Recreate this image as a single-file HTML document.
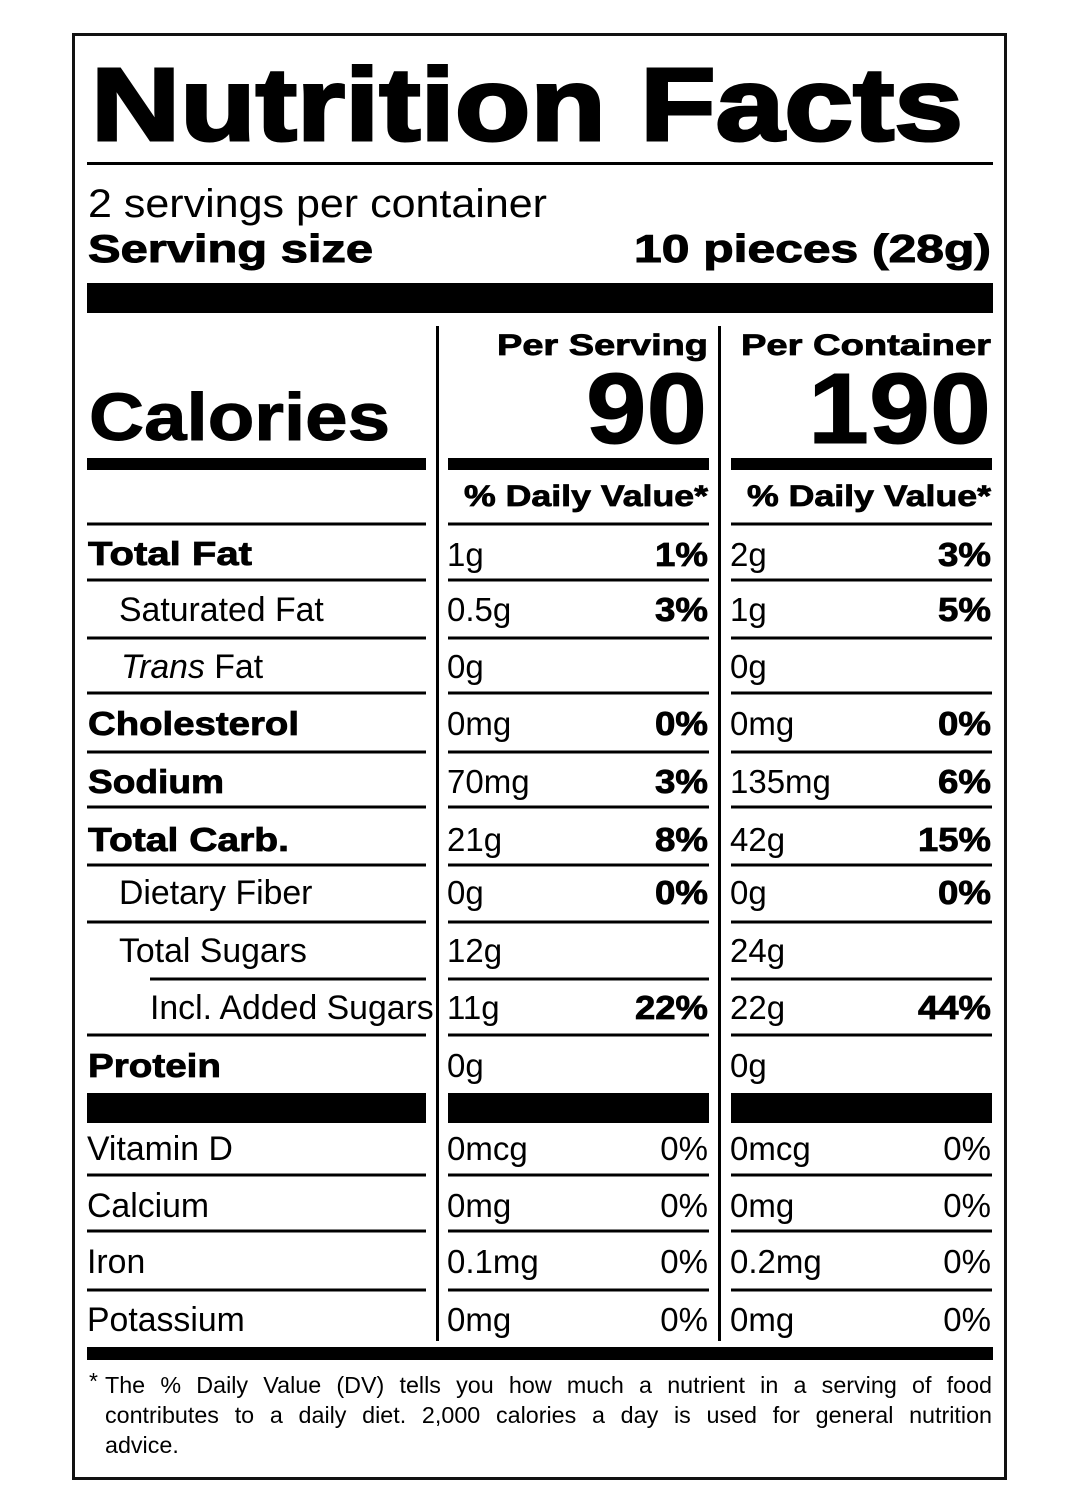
<!DOCTYPE html>
<html>
<head>
<meta charset="utf-8">
<style>
  html, body { margin:0; padding:0; background:#fff; }
  body { width:1080px; height:1495px; position:relative; overflow:hidden; }
  svg { position:absolute; left:0; top:0; }
  .foot { position:absolute; left:105px; top:1370px; width:887px;
          font-family:"Liberation Sans", Arial, sans-serif; font-size:23.3px; line-height:30px; color:#000; }
  .foot div { white-space:nowrap; }
  .j { text-align:justify; text-align-last:justify; white-space:normal !important; }
  .ast { position:absolute; left:89px; top:1366px; font-family:"Liberation Sans", Arial, sans-serif; font-size:23px; line-height:30px; }
</style>
</head>
<body>
<svg width="1080" height="1495" viewBox="0 0 1080 1495" xmlns="http://www.w3.org/2000/svg" font-family="Liberation Sans, Arial, sans-serif">
  <rect x="0" y="0" width="1080" height="1495" fill="#fff"/>
  <rect x="73.5" y="34.5" width="932" height="1444" fill="none" stroke="#111" stroke-width="3"/>

  <!-- Title -->
  <text x="91" y="140" font-size="103" font-weight="bold" textLength="872" lengthAdjust="spacingAndGlyphs" stroke="#000" stroke-width="3">Nutrition Facts</text>
  <rect x="87" y="162" width="906" height="3" fill="#000"/>

  <!-- Servings -->
  <text x="88" y="217" font-size="40" textLength="459" lengthAdjust="spacingAndGlyphs">2 servings per container</text>
  <text x="88" y="262" font-size="39" font-weight="bold" textLength="285" lengthAdjust="spacingAndGlyphs" stroke="#000" stroke-width="1">Serving size</text>
  <text x="991" y="262" font-size="39" font-weight="bold" text-anchor="end" textLength="357" lengthAdjust="spacingAndGlyphs" stroke="#000" stroke-width="1">10 pieces (28g)</text>
  <rect x="87" y="283" width="906" height="30" fill="#000"/>

  <!-- Dividers -->
  <rect x="436" y="326" width="3" height="1015" fill="#000"/>
  <rect x="718" y="326" width="3" height="1015" fill="#000"/>

  <!-- Calories header -->
  <text x="708" y="355" font-size="30" font-weight="bold" text-anchor="end" textLength="211" lengthAdjust="spacingAndGlyphs" stroke="#000" stroke-width="0.8">Per Serving</text>
  <text x="991" y="355" font-size="30" font-weight="bold" text-anchor="end" textLength="250" lengthAdjust="spacingAndGlyphs" stroke="#000" stroke-width="0.8">Per Container</text>
  <text x="89" y="440" font-size="67" font-weight="bold" textLength="301" lengthAdjust="spacingAndGlyphs" stroke="#000" stroke-width="1">Calories</text>
  <text x="707" y="443" font-size="100" font-weight="bold" text-anchor="end" textLength="121" lengthAdjust="spacingAndGlyphs" stroke="#000" stroke-width="1">90</text>
  <text x="991" y="443" font-size="100" font-weight="bold" text-anchor="end" textLength="183" lengthAdjust="spacingAndGlyphs" stroke="#000" stroke-width="1">190</text>
  <rect x="87" y="458" width="339" height="12" fill="#000"/>
  <rect x="448" y="458" width="261" height="12" fill="#000"/>
  <rect x="731" y="458" width="261" height="12" fill="#000"/>
  <text x="708" y="506" font-size="30" font-weight="bold" text-anchor="end" textLength="244" lengthAdjust="spacingAndGlyphs" stroke="#000" stroke-width="0.8">% Daily Value*</text>
  <text x="991" y="506" font-size="30" font-weight="bold" text-anchor="end" textLength="244" lengthAdjust="spacingAndGlyphs" stroke="#000" stroke-width="0.8">% Daily Value*</text>

  <!-- Row lines -->
  <g fill="#000">
    <rect x="87" y="522.5" width="339" height="3"/><rect x="448" y="522.5" width="261" height="3"/><rect x="731" y="522.5" width="261" height="3"/>
    <rect x="87" y="578.5" width="339" height="3"/><rect x="448" y="578.5" width="261" height="3"/><rect x="731" y="578.5" width="261" height="3"/>
    <rect x="87" y="636.5" width="339" height="3"/><rect x="448" y="636.5" width="261" height="3"/><rect x="731" y="636.5" width="261" height="3"/>
    <rect x="87" y="691.5" width="339" height="3"/><rect x="448" y="691.5" width="261" height="3"/><rect x="731" y="691.5" width="261" height="3"/>
    <rect x="87" y="750.5" width="339" height="3"/><rect x="448" y="750.5" width="261" height="3"/><rect x="731" y="750.5" width="261" height="3"/>
    <rect x="87" y="805.5" width="339" height="3"/><rect x="448" y="805.5" width="261" height="3"/><rect x="731" y="805.5" width="261" height="3"/>
    <rect x="87" y="863.5" width="339" height="3"/><rect x="448" y="863.5" width="261" height="3"/><rect x="731" y="863.5" width="261" height="3"/>
    <rect x="87" y="920.5" width="339" height="3"/><rect x="448" y="920.5" width="261" height="3"/><rect x="731" y="920.5" width="261" height="3"/>
    <rect x="150" y="977.5" width="276" height="3"/><rect x="448" y="977.5" width="261" height="3"/><rect x="731" y="977.5" width="261" height="3"/>
    <rect x="87" y="1033.5" width="339" height="3"/><rect x="448" y="1033.5" width="261" height="3"/><rect x="731" y="1033.5" width="261" height="3"/>
    <rect x="87" y="1093" width="339" height="30"/><rect x="448" y="1093" width="261" height="30"/><rect x="731" y="1093" width="261" height="30"/>
    <rect x="87" y="1173.5" width="339" height="3"/><rect x="448" y="1173.5" width="261" height="3"/><rect x="731" y="1173.5" width="261" height="3"/>
    <rect x="87" y="1229.5" width="339" height="3"/><rect x="448" y="1229.5" width="261" height="3"/><rect x="731" y="1229.5" width="261" height="3"/>
    <rect x="87" y="1288.5" width="339" height="3"/><rect x="448" y="1288.5" width="261" height="3"/><rect x="731" y="1288.5" width="261" height="3"/>
    <rect x="87" y="1347" width="906" height="13"/>
  </g>

  <!-- Labels -->
  <g font-size="33">
    <g font-weight="bold" stroke="#000" stroke-width="0.8">
      <text x="88" y="565" textLength="164" lengthAdjust="spacingAndGlyphs">Total Fat</text>
      <text x="88" y="735" textLength="211" lengthAdjust="spacingAndGlyphs">Cholesterol</text>
      <text x="88" y="793" textLength="136" lengthAdjust="spacingAndGlyphs">Sodium</text>
      <text x="88" y="851" textLength="201" lengthAdjust="spacingAndGlyphs">Total Carb.</text>
      <text x="88" y="1077" textLength="133" lengthAdjust="spacingAndGlyphs">Protein</text>
    </g>
    <g font-size="33.8">
      <text x="119" y="621">Saturated Fat</text>
      <text x="121" y="678"><tspan font-style="italic">Trans</tspan> Fat</text>
      <text x="119" y="904">Dietary Fiber</text>
      <text x="119" y="962">Total Sugars</text>
      <text x="150" y="1019">Incl. Added Sugars</text>
      <text x="87" y="1160">Vitamin D</text>
      <text x="87" y="1217">Calcium</text>
      <text x="87" y="1273">Iron</text>
      <text x="87" y="1331">Potassium</text>
    </g>

    <!-- Per serving amounts -->
    <text x="447" y="566">1g</text>
    <text x="447" y="621">0.5g</text>
    <text x="447" y="678">0g</text>
    <text x="447" y="735">0mg</text>
    <text x="447" y="793">70mg</text>
    <text x="447" y="851">21g</text>
    <text x="447" y="904">0g</text>
    <text x="447" y="962">12g</text>
    <text x="447" y="1019">11g</text>
    <text x="447" y="1077">0g</text>
    <text x="447" y="1160">0mcg</text>
    <text x="447" y="1217">0mg</text>
    <text x="447" y="1273">0.1mg</text>
    <text x="447" y="1331">0mg</text>

    <!-- Per container amounts -->
    <text x="730" y="566">2g</text>
    <text x="730" y="621">1g</text>
    <text x="730" y="678">0g</text>
    <text x="730" y="735">0mg</text>
    <text x="730" y="793">135mg</text>
    <text x="730" y="851">42g</text>
    <text x="730" y="904">0g</text>
    <text x="730" y="962">24g</text>
    <text x="730" y="1019">22g</text>
    <text x="730" y="1077">0g</text>
    <text x="730" y="1160">0mcg</text>
    <text x="730" y="1217">0mg</text>
    <text x="730" y="1273">0.2mg</text>
    <text x="730" y="1331">0mg</text>

    <!-- Bold percentages -->
    <g font-weight="bold" text-anchor="end" stroke="#000" stroke-width="0.8">
      <text x="708" y="566" textLength="53" lengthAdjust="spacingAndGlyphs">1%</text>
      <text x="708" y="621" textLength="53" lengthAdjust="spacingAndGlyphs">3%</text>
      <text x="708" y="735" textLength="53" lengthAdjust="spacingAndGlyphs">0%</text>
      <text x="708" y="793" textLength="53" lengthAdjust="spacingAndGlyphs">3%</text>
      <text x="708" y="851" textLength="53" lengthAdjust="spacingAndGlyphs">8%</text>
      <text x="708" y="904" textLength="53" lengthAdjust="spacingAndGlyphs">0%</text>
      <text x="708" y="1019" textLength="73" lengthAdjust="spacingAndGlyphs">22%</text>

      <text x="991" y="566" textLength="53" lengthAdjust="spacingAndGlyphs">3%</text>
      <text x="991" y="621" textLength="53" lengthAdjust="spacingAndGlyphs">5%</text>
      <text x="991" y="735" textLength="53" lengthAdjust="spacingAndGlyphs">0%</text>
      <text x="991" y="793" textLength="53" lengthAdjust="spacingAndGlyphs">6%</text>
      <text x="991" y="851" textLength="73" lengthAdjust="spacingAndGlyphs">15%</text>
      <text x="991" y="904" textLength="53" lengthAdjust="spacingAndGlyphs">0%</text>
      <text x="991" y="1019" textLength="73" lengthAdjust="spacingAndGlyphs">44%</text>
    </g>

    <!-- Regular percentages -->
    <g text-anchor="end">
      <text x="708" y="1160">0%</text>
      <text x="708" y="1217">0%</text>
      <text x="708" y="1273">0%</text>
      <text x="708" y="1331">0%</text>
      <text x="991" y="1160">0%</text>
      <text x="991" y="1217">0%</text>
      <text x="991" y="1273">0%</text>
      <text x="991" y="1331">0%</text>
    </g>
  </g>
</svg>

<div class="ast">*</div>
<div class="foot">
  <div class="j">The % Daily Value (DV) tells you how much a nutrient in a serving of food</div>
  <div class="j">contributes to a daily diet. 2,000 calories a day is used for general nutrition</div>
  <div>advice.</div>
</div>
</body>
</html>
